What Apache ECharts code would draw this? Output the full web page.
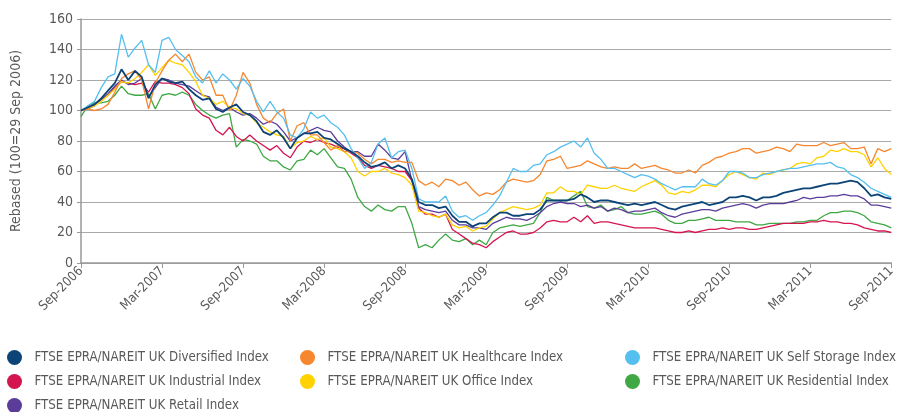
<!DOCTYPE html>
<html>
<head>
<meta charset="utf-8">
<script src="https://cdn.jsdelivr.net/npm/echarts/dist/echarts.min.js"></script>
<style>
  html, body { margin: 0; padding: 0; background: #fff; }
  #chart { width: 898px; height: 412px; }
</style>
</head>
<body>
<div id="chart"></div>
<script>
  // half-month readings, 29 Sep 2006 .. Sep 2011, rebased to 100
  const tickLabels = ['Sep-2006', 'Mar-2007', 'Sep-2007', 'Mar-2008', 'Sep-2008', 'Mar-2009',
    'Sep-2009', 'Mar-2010', 'Sep-2010', 'Mar-2011', 'Sep-2011'];

  const diversified = [100, 102, 104, 108, 113, 118, 127, 120, 126, 122, 108, 117, 121, 119, 118, 119, 114, 110, 107, 108, 101,
    99, 102, 104, 99, 97, 93, 86, 84, 87, 82, 75, 82, 85, 85, 86, 82, 81, 78, 75, 73,
    70, 66, 63, 64, 66, 62, 64, 62, 55, 40, 38, 38, 36, 37, 31, 27, 27, 24, 26, 26,
    30, 33, 33, 31, 31, 32, 32, 35, 41, 41, 41, 41, 42, 45, 43, 40, 41, 41, 40, 39,
    38, 39, 38, 39, 40, 38, 36, 35, 37, 38, 39, 40, 38, 39, 40, 43, 43, 44, 43, 41,
    43, 43, 44, 46, 47, 48, 49, 49, 50, 51, 52, 52, 53, 54, 53, 49, 44, 45, 43, 42];
  const healthcare = [100, 101, 100, 101, 104, 112, 121, 124, 126, 120, 101, 118, 126, 133, 137, 132, 137, 125, 120, 122, 110,
    110, 100, 110, 125, 118, 104, 95, 92, 98, 101, 80, 90, 92, 84, 84, 79, 74, 77, 73, 73,
    72, 68, 65, 68, 68, 66, 67, 66, 66, 54, 51, 53, 50, 55, 54, 51, 53, 48, 44, 46,
    45, 48, 53, 55, 54, 53, 54, 58, 67, 68, 70, 62, 63, 64, 67, 65, 63, 62, 63, 62,
    62, 65, 62, 63, 64, 62, 61, 59, 59, 61, 59, 64, 66, 69, 70, 72, 73, 75, 75, 72,
    73, 74, 76, 75, 73, 78, 77, 77, 77, 79, 77, 78, 79, 75, 75, 76, 65, 75, 73, 75];
  const selfStorage = [100, 103, 106, 115, 122, 124, 150, 135, 141, 146, 130, 125, 146, 148, 140, 136, 132, 122, 118, 126, 118,
    124, 120, 114, 121, 116, 106, 99, 106, 99, 95, 84, 82, 88, 99, 95, 97, 92, 89, 84, 75,
    69, 62, 66, 78, 82, 69, 73, 74, 62, 42, 40, 40, 40, 44, 34, 30, 31, 28, 31, 33,
    38, 44, 53, 62, 60, 60, 64, 65, 71, 73, 76, 78, 80, 76, 82, 72, 68, 62, 62, 60,
    58, 56, 58, 57, 55, 52, 50, 48, 50, 50, 50, 55, 52, 51, 54, 60, 60, 59, 56, 56,
    58, 59, 60, 61, 62, 62, 63, 64, 65, 65, 66, 63, 62, 58, 56, 53, 49, 47, 45, 43];
  const industrial = [100, 102, 104, 107, 110, 115, 119, 118, 117, 118, 112, 119, 118, 118, 117, 115, 111, 101, 97, 95, 87,
    84, 89, 83, 80, 84, 80, 77, 74, 77, 72, 69, 76, 80, 79, 81, 79, 78, 76, 75, 72,
    69, 64, 62, 64, 63, 62, 60, 60, 54, 36, 32, 32, 30, 32, 22, 19, 16, 13, 12, 10,
    14, 17, 20, 21, 19, 19, 20, 23, 27, 28, 27, 27, 30, 27, 31, 26, 27, 27, 26, 25,
    24, 23, 23, 23, 23, 22, 21, 20, 20, 21, 20, 21, 22, 22, 23, 22, 23, 23, 22, 22,
    23, 24, 25, 26, 26, 26, 26, 27, 27, 28, 27, 27, 26, 26, 25, 23, 22, 21, 21, 20];
  const office = [100, 101, 103, 106, 110, 114, 119, 118, 121, 125, 130, 123, 128, 133, 131, 130, 125, 119, 110, 108, 104,
    106, 102, 101, 98, 97, 92, 89, 86, 84, 83, 75, 79, 80, 83, 81, 82, 76, 75, 73, 69,
    60, 57, 60, 60, 62, 59, 58, 56, 51, 34, 33, 31, 30, 32, 25, 23, 24, 21, 23, 24,
    29, 33, 35, 37, 36, 35, 36, 38, 46, 46, 50, 47, 47, 45, 51, 50, 49, 49, 51, 49,
    48, 47, 50, 52, 54, 51, 46, 45, 47, 46, 48, 51, 51, 50, 54, 58, 60, 58, 56, 55,
    59, 58, 60, 61, 62, 65, 66, 65, 69, 70, 74, 73, 75, 73, 73, 71, 63, 69, 62, 58];
  const residential = [96, 103, 105, 105, 106, 110, 116, 111, 110, 110, 111, 101, 110, 111, 110, 112, 110, 104, 100, 97, 95,
    97, 98, 76, 81, 80, 78, 70, 67, 67, 63, 61, 67, 68, 74, 71, 75, 69, 63, 62, 55,
    43, 37, 34, 38, 35, 34, 37, 37, 26, 10, 12, 10, 15, 19, 15, 14, 16, 12, 15, 12,
    20, 23, 24, 25, 24, 25, 26, 33, 43, 41, 41, 41, 44, 47, 37, 36, 38, 34, 35, 37,
    33, 32, 32, 33, 34, 32, 28, 26, 26, 28, 28, 29, 30, 28, 28, 28, 27, 27, 27, 25,
    25, 26, 26, 26, 26, 27, 27, 28, 28, 31, 33, 33, 34, 34, 33, 31, 27, 26, 25, 23];
  const retail = [100, 101, 103, 107, 111, 116, 120, 117, 118, 121, 109, 115, 121, 120, 118, 117, 116, 113, 110, 109, 102,
    100, 102, 99, 97, 98, 95, 91, 93, 91, 86, 80, 82, 85, 87, 89, 87, 86, 80, 76, 73,
    73, 70, 70, 78, 74, 69, 68, 73, 54, 37, 35, 34, 33, 34, 28, 25, 25, 23, 23, 22,
    26, 28, 30, 29, 29, 28, 30, 33, 37, 39, 40, 39, 39, 37, 38, 36, 37, 34, 36, 35,
    33, 34, 34, 35, 36, 33, 31, 30, 32, 33, 34, 35, 35, 34, 36, 37, 38, 39, 38, 36,
    38, 39, 39, 39, 40, 41, 43, 42, 43, 43, 44, 44, 45, 44, 44, 42, 38, 38, 37, 36];

  // x position of each reading, in months after 29 Sep 2006
  const months = diversified.map((v, i) => i / 2);

  const FONT = '"Liberation Sans Narrow", "DejaVu Sans Condensed", "Open Sans", sans-serif';
  const TXT = '#595959';

  const defs = [
    { name: 'FTSE EPRA/NAREIT UK Residential Index', data: residential, color: '#3fa844' },
    { name: 'FTSE EPRA/NAREIT UK Industrial Index', data: industrial, color: '#d5154f' },
    { name: 'FTSE EPRA/NAREIT UK Retail Index', data: retail, color: '#5b3d99' },
    { name: 'FTSE EPRA/NAREIT UK Office Index', data: office, color: '#ffd200' },
    { name: 'FTSE EPRA/NAREIT UK Healthcare Index', data: healthcare, color: '#f6872f' },
    { name: 'FTSE EPRA/NAREIT UK Self Storage Index', data: selfStorage, color: '#55bff0' },
    { name: 'FTSE EPRA/NAREIT UK Diversified Index', data: diversified, color: '#0c4477' }
  ];

  const legendBase = {
    orient: 'vertical',
    top: 350,
    height: 80,
    icon: 'circle',
    itemWidth: 30,
    itemHeight: 15,
    itemGap: 9,
    padding: 0,
    textStyle: { fontFamily: FONT, fontSize: 13.2, color: TXT }
  };

  let myChart = echarts.init(document.getElementById('chart'));
  let option = {
    animation: false,
    backgroundColor: '#fff',
    grid: { left: 81, right: 2, top: 19, bottom: 149 },
    legend: [
      Object.assign({ left: 7, data: [defs[6].name, defs[1].name, defs[2].name] }, legendBase),
      Object.assign({ left: 300, data: [defs[4].name, defs[3].name] }, legendBase),
      Object.assign({ left: 625, data: [defs[5].name, defs[0].name] }, legendBase)
    ],
    xAxis: {
      type: 'value',
      min: 0,
      max: 60,
      interval: 6,
      axisLine: { lineStyle: { color: '#999', width: 1.5 } },
      axisTick: { show: true, length: 5, lineStyle: { color: '#999' } },
      splitLine: { show: false },
      axisLabel: {
        rotate: 45,
        margin: 6,
        fontFamily: FONT,
        fontSize: 13,
        color: TXT,
        formatter: v => tickLabels[Math.round(v / 6)]
      }
    },
    yAxis: {
      type: 'value',
      min: 0,
      max: 160,
      interval: 20,
      name: 'Rebased (100=29 Sep 2006)',
      nameLocation: 'middle',
      nameGap: 58,
      nameTextStyle: { fontFamily: FONT, fontSize: 14, color: TXT },
      axisLine: { show: true, lineStyle: { color: '#999', width: 1.5 } },
      axisTick: { show: true, length: 4, lineStyle: { color: '#999' } },
      splitLine: { lineStyle: { color: '#aaa', width: 1.2 } },
      axisLabel: { margin: 8, fontFamily: FONT, fontSize: 14, color: TXT }
    },
    series: defs.map(d => ({
      name: d.name,
      type: 'line',
      symbol: 'none',
      color: d.color,
      lineStyle: { width: d.data === diversified ? 1.8 : 1.3, color: d.color },
      data: d.data.map((v, i) => [months[i], v])
    }))
  };
  myChart.setOption(option);
</script>
</body>
</html>
